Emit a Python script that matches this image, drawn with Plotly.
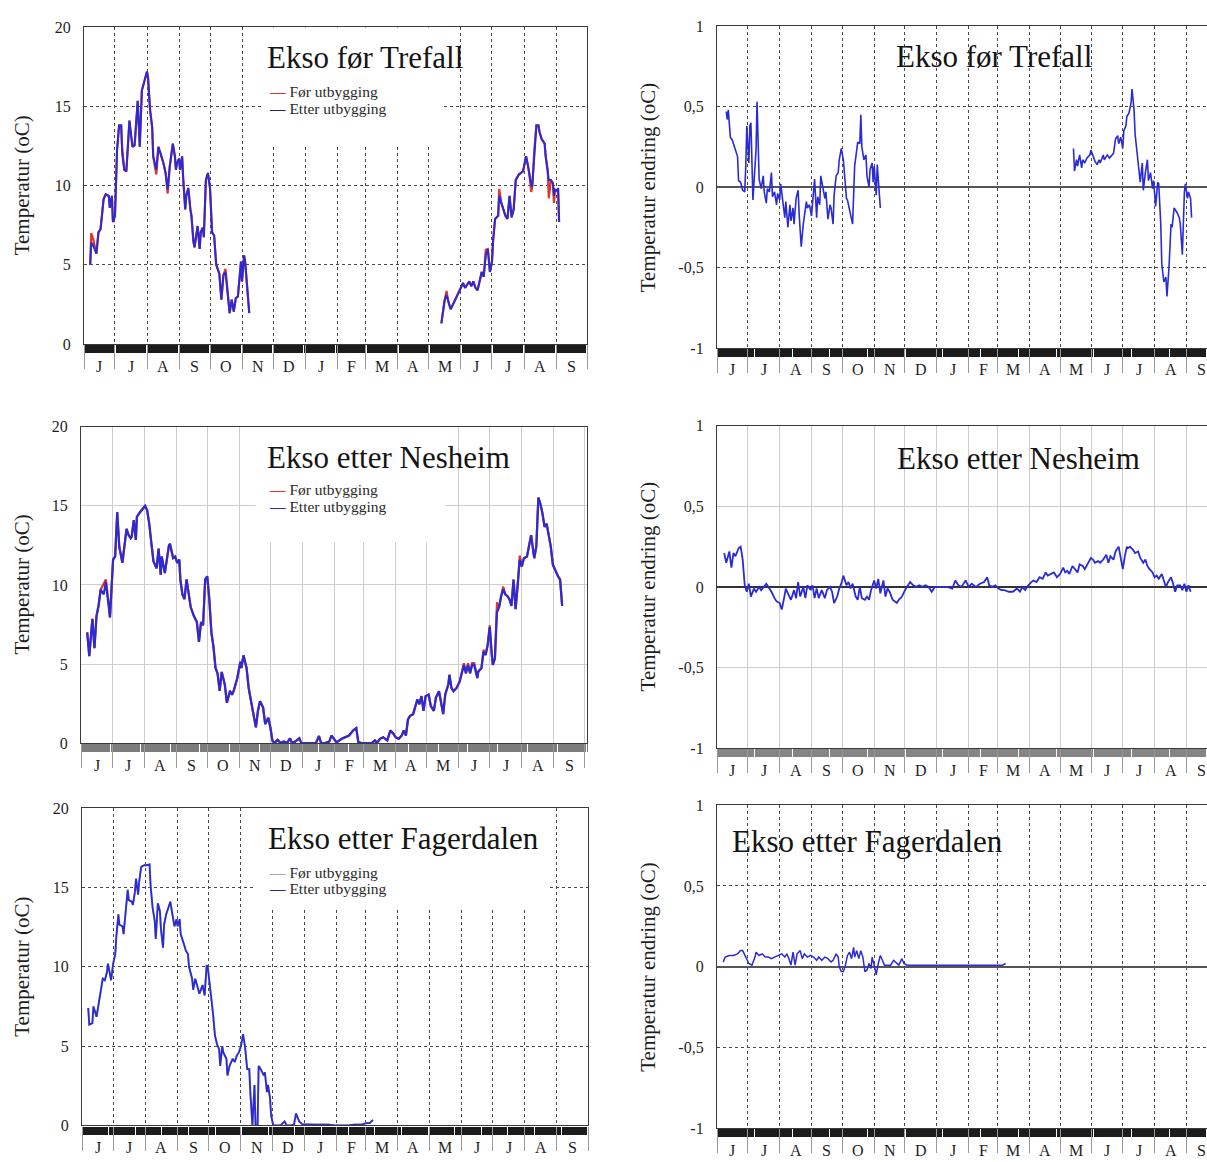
import plotly.graph_objects as go

W, H = 1207, 1162
SERIF = "Liberation Serif, Times New Roman, serif"

# ---------------- axis categories (days since 1 June, year 1) ----------------
month_starts = [0, 30, 61, 92, 122, 153, 183, 214, 245, 273, 304, 334, 365, 395, 426, 457, 487]
month_letters = ["J", "J", "A", "S", "O", "N", "D", "J", "F", "M", "A", "M", "J", "J", "A", "S"]
month_mids = [(month_starts[i] + month_starts[i + 1]) / 2 for i in range(len(month_letters))]

temp_ticks = [0, 5, 10, 15, 20]
diff_ticks = [-1, -0.5, 0, 0.5, 1]
diff_ticktext = ["-1", "-0,5", "0", "0,5", "1"]

# ---------------- Ekso før Trefall : temperature ----------------
tl_a_days = [6, 7, 9, 12, 14, 16, 19, 21, 24, 25, 27, 28, 30, 31, 32, 34, 36, 37, 39, 41,
             44, 45, 47, 49, 52, 53, 54, 56, 58, 61, 62, 64, 66, 67, 70, 72, 74, 77, 79, 81,
             83, 86, 88, 89, 90, 92, 93, 95, 96, 98, 99, 101, 103, 104, 106, 107, 110, 112, 113, 115,
             116, 118, 120, 122, 124, 126, 128, 131, 133, 135, 137, 139, 141, 143, 145, 147, 149, 150, 152, 153,
             155, 156, 158, 160]
tl_a_etter = [5.0, 6.4, 6.2, 5.7, 7.05, 7.25, 9.15, 9.45, 9.35, 8.6, 9.35, 7.7, 8.1, 10.6, 12.25, 13.8, 13.8, 12.0, 11.0, 10.9,
              14.1, 13.5, 12.45, 12.55, 15.35, 13.9, 12.45, 16.0, 16.5, 17.2, 16.8, 14.75, 13.7, 11.85, 11.0, 12.45, 12.05, 11.4, 10.8, 9.75,
              11.2, 12.65, 11.85, 11.0, 11.4, 11.7, 11.0, 11.85, 10.5, 8.5, 9.35, 9.85, 8.5, 8.1, 6.45, 6.1, 7.45, 6.0, 7.05, 7.35,
              6.75, 10.35, 10.8, 9.85, 7.05, 6.85, 5.0, 4.45, 2.8, 4.35, 4.55, 3.1, 1.95, 2.8, 2.05, 2.9, 3.0, 3.75, 5.2, 3.95,
              5.6, 5.2, 3.55, 1.95]
tl_a_foer_diff = {7: 7.0, 9: 6.6, 37: 12.4, 70: 10.7, 81: 9.5, 137: 4.75}

tl_b_days = [346, 348, 349, 351, 353, 355, 358, 360, 363, 365, 367, 369, 371, 373, 375, 377, 379, 381, 383, 385,
             387, 389, 391, 392, 393, 395, 396, 398, 401, 402, 404, 406, 408, 410, 411, 412, 414, 416, 418, 421,
             423, 425, 426, 428, 430, 431, 433, 434, 436, 438, 440, 441, 443, 446, 447, 449, 450, 452, 454, 455,
             456, 458, 459, 460]
tl_b_etter = [1.3, 2.4, 2.7, 3.1, 2.6, 2.2, 2.6, 2.9, 3.3, 3.55, 3.85, 3.55, 3.75, 3.95, 3.65, 3.95, 3.55, 3.4, 3.95, 4.55,
              4.25, 5.6, 6.0, 5.4, 4.55, 5.2, 6.45, 7.9, 8.1, 9.35, 8.9, 8.5, 8.1, 7.9, 8.7, 9.35, 8.0, 8.5, 10.35, 10.7,
              10.8, 10.9, 11.2, 11.85, 11.2, 10.8, 10.05, 9.95, 12.25, 13.8, 13.8, 13.4, 12.95, 12.65, 11.85, 11.0, 10.35, 10.35, 10.15, 9.35,
              9.75, 9.65, 9.85, 7.7]
tl_b_foer_diff = {351: 3.35, 389: 5.95, 402: 9.8, 433: 9.6, 450: 9.2, 455: 8.9}

# ---------------- Ekso etter Nesheim : temperature ----------------
ml_days = [6, 8, 11, 13, 15, 17, 19, 22, 24, 27, 28, 31, 33, 35, 37, 40, 42, 44, 46, 48,
           49, 51, 53, 54, 57, 59, 62, 64, 66, 68, 70, 73, 75, 77, 78, 81, 83, 85, 86, 89,
           91, 93, 95, 96, 98, 100, 102, 104, 106, 109, 112, 114, 116, 118, 120, 122, 124, 126, 128, 130,
           132, 134, 136, 139, 141, 144, 146, 148, 151, 154, 155, 157, 160, 162, 164, 166, 169, 171, 173, 176,
           178, 181, 183, 185, 187, 190, 193, 196, 199, 202, 204, 207, 211, 213, 216, 220, 224, 227, 230, 232,
           236, 240, 242, 247, 252, 259, 263, 266, 268, 271, 275, 278, 281, 284, 286, 289, 292, 296, 299, 302,
           304, 307, 310, 312, 314, 316, 318, 321, 325, 327, 329, 331, 333, 336, 338, 341, 343, 346, 348, 350,
           352, 355, 356, 358, 360, 363, 366, 368, 370, 372, 374, 376, 378, 380, 383, 384, 387, 389, 391, 393,
           395, 397, 398, 400, 402, 404, 406, 408, 410, 412, 414, 416, 418, 420, 422, 424, 426, 428, 431, 433,
           435, 438, 440, 442, 444, 446, 448, 450, 452, 454, 456, 458, 461, 463, 465]
ml_etter = [7.0, 5.5, 7.85, 6.0, 8.05, 8.7, 9.7, 9.4, 10.2, 8.7, 7.95, 11.6, 11.8, 14.6, 12.4, 11.4, 12.5, 13.55, 13.15, 12.95,
            13.05, 14.1, 12.85, 14.3, 14.6, 14.75, 15.0, 14.7, 13.85, 12.65, 11.5, 11.05, 12.3, 10.65, 11.8, 10.75, 11.7, 12.5, 12.6, 11.7,
            11.8, 11.4, 11.6, 10.35, 9.4, 9.1, 10.35, 9.4, 8.6, 8.05, 7.65, 6.4, 7.65, 7.45, 10.35, 10.55, 9.1, 7.0, 6.1, 4.75,
            4.4, 3.3, 4.5, 3.7, 2.55, 3.3, 3.05, 3.4, 4.1, 5.15, 4.75, 5.55, 4.75, 3.5, 2.65, 2.05, 1.0, 2.05, 2.65, 2.25,
            1.2, 1.6, 1.0, 0.15, 0.0, 0.2, 0.0, 0.1, 0.0, 0.3, 0.0, 0.1, 0.3, 0.0, 0.0, 0.0, 0.0, 0.0, 0.45, 0.0,
            0.0, 0.1, 0.48, 0.05, 0.27, 0.48, 0.8, 0.95, 0.06, 0.0, 0.0, 0.0, 0.0, 0.17, 0.02, 0.27, 0.37, 0.17, 0.8, 0.58,
            0.37, 0.27, 0.48, 0.8, 0.48, 1.5, 1.72, 1.83, 2.76, 2.45, 2.97, 2.04, 2.97, 3.07, 2.35, 2.04, 2.87, 3.28, 2.66, 1.83,
            3.07, 3.7, 4.32, 3.49, 3.28, 3.49, 3.9, 4.53, 4.94, 4.42, 4.94, 4.42, 4.94, 4.94, 4.11, 4.53, 4.74, 5.77, 5.57, 6.19,
            7.33, 5.57, 4.94, 5.36, 8.27, 8.58, 9.3, 9.72, 9.41, 9.3, 9.1, 8.68, 10.34, 8.47, 9.93, 11.59, 11.17, 11.69, 11.8, 12.42,
            13.15, 11.69, 12.42, 15.53, 15.12, 14.5, 13.67, 13.87, 13.25, 12.42, 11.28, 10.97, 10.55, 10.34, 8.68]
ml_foer_diff = {22: 10.1, 24: 10.35, 370: 5.05, 374: 5.05, 378: 5.05, 380: 5.05, 389: 5.9,
                395: 7.45, 402: 8.9, 408: 9.9, 424: 11.85}

# ---------------- Ekso etter Fagerdalen : temperature ----------------
bl_days = [6, 7, 10, 11, 14, 16, 18, 20, 22, 24, 25, 27, 28, 30, 32, 33, 35, 36, 39, 40,
           42, 44, 45, 48, 49, 51, 52, 54, 55, 57, 60, 62, 65, 66, 68, 70, 71, 73, 75, 76,
           78, 79, 81, 83, 85, 87, 89, 91, 92, 94, 95, 98, 100, 102, 103, 106, 107, 109, 111, 113,
           115, 116, 118, 120, 121, 123, 125, 126, 128, 130, 132, 133, 135, 136, 139, 140, 142, 145, 147, 149,
           151, 153, 155, 157, 159, 161, 162, 164, 166, 167, 169, 170, 172, 175, 176, 178, 179, 181, 182, 184,
           188, 191, 195, 197, 201, 204, 206, 207, 209, 212, 217, 224, 230, 237, 243, 249, 256, 262, 269, 274,
           277, 280]
bl_etter = [7.4, 6.35, 6.45, 7.5, 6.85, 7.7, 8.3, 9.25, 9.15, 9.65, 10.2, 9.55, 9.15, 10.2, 10.8, 11.85, 13.3, 12.65, 12.55, 12.05,
            13.3, 14.85, 14.2, 14.1, 13.9, 14.75, 15.55, 14.55, 15.35, 16.3, 16.4, 16.4, 16.45, 15.15, 13.7, 12.9, 11.75, 14.0, 13.5, 12.35,
            11.2, 12.65, 13.3, 13.7, 14.1, 13.3, 12.55, 13.0, 12.55, 13.0, 12.05, 11.45, 11.0, 10.8, 10.0, 9.25, 8.55, 9.25, 8.75, 8.3,
            8.65, 8.85, 8.2, 10.1, 10.0, 8.85, 7.9, 7.1, 5.65, 5.1, 4.8, 3.75, 5.0, 4.6, 4.2, 3.15, 3.75, 4.2, 4.0, 4.4,
            4.6, 5.0, 5.75, 4.9, 3.55, 3.55, 2.1, 0.0, 2.55, 0.0, 0.0, 3.75, 3.55, 3.15, 3.35, 2.1, 2.55, 1.7, 0.65, 0.0,
            0.0, 0.0, 0.25, 0.0, 0.0, 0.05, 0.75, 0.55, 0.25, 0.08, 0.05, 0.05, 0.05, 0.05, 0.0, 0.0, 0.0, 0.05, 0.05, 0.15,
            0.15, 0.35]

# ---------------- temperature change series ----------------
tr_a_days = [9, 10, 11, 13, 15, 18, 20, 21, 23, 25, 27, 28, 29, 31, 32, 33, 34, 35, 36, 38,
             39, 40, 41, 43, 45, 46, 48, 49, 51, 53, 54, 56, 58, 59, 61, 62, 64, 66, 67, 69,
             71, 72, 74, 75, 77, 79, 80, 82, 84, 85, 87, 88, 90, 92, 93, 95, 97, 98, 100, 101,
             103, 105, 106, 108, 110, 111, 113, 114, 116, 118, 119, 121, 123, 124, 126, 127, 129, 131, 132, 134,
             136, 137, 139, 140, 141, 143, 145, 146, 148, 149, 151, 152, 153, 155, 156, 157, 159]
tr_a_endring = [0.47, 0.42, 0.48, 0.31, 0.29, 0.23, 0.19, 0.04, 0.03, -0.02, -0.03, 0.13, 0.38, 0.15, 0.38, 0.4, 0.07, -0.08, 0.03, 0.23,
                0.53, 0.23, 0.05, -0.01, 0.07, -0.03, -0.1, -0.01, -0.03, 0.09, -0.06, -0.03, -0.11, -0.04, -0.08, 0.02, -0.07, -0.19, -0.09, -0.25,
                -0.11, -0.21, -0.13, -0.23, -0.07, -0.02, -0.17, -0.37, -0.23, -0.17, -0.09, -0.13, -0.11, -0.18, -0.11, 0.05, -0.19, -0.06, -0.11, 0.07,
                0.0, -0.07, -0.03, -0.2, -0.11, -0.13, -0.23, -0.05, 0.07, 0.09, 0.17, 0.24, 0.17, 0.07, -0.07, -0.08, -0.15, -0.21, -0.23, 0.13,
                0.25, 0.28, 0.27, 0.45, 0.25, 0.17, 0.2, 0.07, 0.0, 0.11, 0.15, 0.03, 0.13, -0.05, 0.14, 0.05, -0.13]
tr_b_days = [347, 348, 350, 351, 353, 355, 356, 358, 360, 363, 364, 366, 368, 370, 372, 373, 376, 377, 380, 382,
             385, 386, 388, 390, 391, 393, 395, 396, 398, 399, 401, 403, 404, 406, 407, 409, 411, 412, 414, 415,
             417, 419, 420, 422, 424, 425, 427, 429, 430, 432, 433, 435, 437, 438, 440, 442, 443, 445, 447, 448,
             450, 451, 453, 455, 456, 458, 459, 461, 462]
tr_b_endring = [0.24, 0.1, 0.17, 0.13, 0.2, 0.12, 0.17, 0.15, 0.18, 0.2, 0.23, 0.19, 0.16, 0.14, 0.17, 0.15, 0.2, 0.17, 0.2, 0.18,
                0.2, 0.21, 0.3, 0.32, 0.27, 0.31, 0.24, 0.35, 0.38, 0.44, 0.46, 0.52, 0.61, 0.48, 0.33, 0.19, 0.09, 0.03, 0.15, -0.02,
                0.09, 0.17, 0.04, 0.09, -0.01, 0.04, -0.12, 0.03, 0.02, -0.23, -0.48, -0.59, -0.56, -0.68, -0.5, -0.23, -0.25, -0.13, -0.15, -0.16,
                -0.19, -0.23, -0.42, -0.03, 0.02, -0.07, -0.03, -0.07, -0.19]

mr_days = [7, 9, 12, 14, 16, 18, 21, 23, 25, 27, 29, 31, 33, 36, 38, 41, 43, 46, 48, 51,
           53, 56, 58, 61, 63, 65, 67, 69, 72, 75, 77, 79, 81, 84, 86, 88, 91, 93, 95, 97,
           99, 102, 105, 107, 110, 112, 114, 117, 119, 121, 123, 126, 128, 130, 132, 135, 137, 139, 141, 144,
           146, 148, 150, 153, 155, 157, 159, 162, 164, 166, 168, 171, 173, 175, 177, 180, 183, 186, 188, 191,
           194, 197, 200, 203, 206, 209, 212, 216, 220, 224, 229, 232, 235, 238, 242, 245, 248, 252, 256, 260,
           263, 265, 268, 271, 274, 277, 280, 284, 288, 292, 295, 297, 300, 303, 306, 308, 311, 314, 317, 320,
           322, 325, 328, 331, 334, 337, 339, 341, 343, 346, 349, 351, 353, 356, 358, 361, 364, 366, 368, 371,
           373, 376, 379, 381, 383, 386, 388, 391, 393, 395, 397, 399, 400, 402, 405, 407, 410, 412, 415, 417,
           419, 421, 424, 426, 428, 430, 433, 435, 437, 439, 442, 444, 446, 448, 451, 453, 455, 457, 459, 461]
mr_endring = [0.21, 0.15, 0.22, 0.12, 0.21, 0.19, 0.24, 0.25, 0.17, 0.01, -0.03, 0.02, -0.06, -0.01, -0.03, 0.0, -0.02, 0.0, 0.02, -0.01,
              -0.03, -0.07, -0.09, -0.1, -0.14, -0.08, -0.01, -0.04, -0.08, -0.02, -0.07, 0.03, -0.06, 0.0, -0.07, 0.01, -0.02, 0.01, -0.07, -0.01,
              -0.07, -0.02, -0.07, -0.02, 0.0, -0.03, -0.1, -0.06, -0.01, 0.02, 0.07, 0.01, 0.03, -0.01, 0.02, -0.06, -0.08, 0.0, -0.07, -0.08,
              -0.06, -0.08, -0.02, 0.04, -0.01, 0.05, -0.04, 0.04, -0.06, -0.01, -0.03, -0.08, -0.09, -0.1, -0.08, -0.06, -0.02, 0.01, 0.03, 0.01,
              0.0, 0.01, 0.0, 0.01, 0.0, -0.03, 0.0, 0.0, 0.0, 0.0, -0.01, 0.04, 0.01, 0.0, 0.04, 0.0, 0.02, 0.0, 0.02, 0.03,
              0.06, 0.01, 0.0, 0.01, -0.01, -0.02, -0.02, -0.03, -0.03, -0.01, -0.03, 0.0, -0.02, 0.01, 0.03, 0.04, 0.03, 0.06, 0.05, 0.09,
              0.07, 0.08, 0.09, 0.06, 0.08, 0.12, 0.09, 0.1, 0.08, 0.13, 0.11, 0.09, 0.14, 0.13, 0.11, 0.15, 0.18, 0.17, 0.15, 0.16,
              0.15, 0.17, 0.2, 0.15, 0.19, 0.17, 0.22, 0.25, 0.18, 0.11, 0.19, 0.25, 0.24, 0.25, 0.23, 0.21, 0.22, 0.18, 0.15, 0.17,
              0.13, 0.11, 0.09, 0.06, 0.07, 0.05, 0.08, 0.04, 0.0, 0.03, 0.06, 0.02, -0.03, 0.01, 0.01, -0.02, 0.02, -0.03, 0.01, -0.03]

br_days = [6, 8, 12, 16, 20, 23, 25, 28, 31, 34, 37, 38, 41, 44, 47, 50, 53, 56, 60, 63,
           66, 68, 70, 72, 74, 76, 78, 81, 83, 85, 88, 91, 94, 97, 99, 102, 105, 108, 111, 113,
           116, 118, 119, 121, 123, 125, 127, 129, 131, 133, 134, 136, 138, 140, 142, 144, 146, 148, 150, 151,
           153, 155, 157, 159, 161, 163, 166, 169, 172, 175, 177, 180, 182, 185, 189, 193, 197, 200, 204, 208,
           212, 219, 227, 234, 242, 249, 257, 264, 272, 278, 281]
br_endring = [0.03, 0.06, 0.07, 0.07, 0.08, 0.1, 0.1, 0.06, 0.02, 0.01, 0.06, 0.09, 0.07, 0.08, 0.06, 0.06, 0.05, 0.06, 0.07, 0.08,
              0.06, 0.08, 0.05, 0.01, 0.09, 0.01, 0.08, 0.1, 0.05, 0.08, 0.06, 0.07, 0.06, 0.04, 0.06, 0.04, 0.06, 0.05, 0.03, 0.04,
              0.08, 0.06, 0.0, -0.03, -0.03, 0.01, 0.07, 0.09, 0.05, 0.12, 0.06, 0.1, 0.05, 0.1, 0.06, -0.03, -0.02, 0.02, -0.01, 0.06,
              0.01, -0.05, 0.02, 0.07, 0.04, 0.01, 0.01, 0.01, 0.04, 0.02, 0.01, 0.05, 0.02, 0.01, 0.01, 0.01, 0.01, 0.01, 0.01, 0.01,
              0.01, 0.01, 0.01, 0.01, 0.01, 0.01, 0.01, 0.01, 0.01, 0.01, 0.02]

# ---------------- text ----------------
panel_titles = ["Ekso før Trefall", "Ekso før Trefall", "Ekso etter Nesheim",
                "Ekso etter Nesheim", "Ekso etter Fagerdalen", "Ekso etter Fagerdalen"]
legend_names = ["Før utbygging", "Etter utbygging"]
ytitle_temp = "Temperatur (oC)"
ytitle_diff = "Temperatur endring (oC)"


# ---------------- helpers ----------------
def fx(px):
    return px / W


def fy(py):
    return 1 - py / H


def apply_diff(days, vals, diff):
    return [diff.get(d, v) for d, v in zip(days, vals)]


def joined(*segs):
    xs, ys = [], []
    for i, (d, v) in enumerate(segs):
        if i:
            xs.append(None)
            ys.append(None)
        xs += list(d)
        ys += list(v)
    return xs, ys


BLUE = "#2b2bd6"
RED = "#e0352a"
GRAYLINE = "#b5b5b5"

fig = go.Figure()

x1f, y1f = joined((tl_a_days, apply_diff(tl_a_days, tl_a_etter, tl_a_foer_diff)),
                  (tl_b_days, apply_diff(tl_b_days, tl_b_etter, tl_b_foer_diff)))
x1e, y1e = joined((tl_a_days, tl_a_etter), (tl_b_days, tl_b_etter))
fig.add_trace(go.Scatter(x=x1f, y=y1f, mode="lines", name=legend_names[0], line=dict(color=RED, width=2.2),
                         xaxis="x", yaxis="y", connectgaps=False))
fig.add_trace(go.Scatter(x=x1e, y=y1e, mode="lines", name=legend_names[1], line=dict(color=BLUE, width=2),
                         xaxis="x", yaxis="y", connectgaps=False))
x2, y2 = joined((tr_a_days, tr_a_endring), (tr_b_days, tr_b_endring))
fig.add_trace(go.Scatter(x=x2, y=y2, mode="lines", line=dict(color=BLUE, width=1.6),
                         xaxis="x2", yaxis="y2", connectgaps=False))
fig.add_trace(go.Scatter(x=ml_days, y=apply_diff(ml_days, ml_etter, ml_foer_diff), mode="lines",
                         name=legend_names[0], line=dict(color=RED, width=2.2), xaxis="x3", yaxis="y3"))
fig.add_trace(go.Scatter(x=ml_days, y=ml_etter, mode="lines", name=legend_names[1],
                         line=dict(color=BLUE, width=2.2), xaxis="x3", yaxis="y3"))
fig.add_trace(go.Scatter(x=mr_days, y=mr_endring, mode="lines", line=dict(color=BLUE, width=1.8),
                         xaxis="x4", yaxis="y4"))
fig.add_trace(go.Scatter(x=bl_days, y=bl_etter, mode="lines", name=legend_names[0],
                         line=dict(color=GRAYLINE, width=2), xaxis="x5", yaxis="y5"))
fig.add_trace(go.Scatter(x=bl_days, y=bl_etter, mode="lines", name=legend_names[1],
                         line=dict(color=BLUE, width=1.8), xaxis="x5", yaxis="y5"))
fig.add_trace(go.Scatter(x=br_days, y=br_endring, mode="lines", line=dict(color=BLUE, width=1.5),
                         xaxis="x6", yaxis="y6"))

DOT = dict(gc="#4a4a4a", gd="dot")
LIGHT = dict(gc="#cdcdcd", gd="solid")
panels = {
    1: dict(xd=(84, 587), yd=(19.5, 341), xr=487, kind="temp", st=DOT, band="#1c1c1c", zl="#444"),
    2: dict(xd=(717, 1207), yd=(18.5, 345), xr=477, kind="diff", st=DOT, band="#1c1c1c", zl="#555"),
    3: dict(xd=(81, 587), yd=(425, 746), xr=489, kind="temp", st=LIGHT, band="#7c7c7c", zl="#444"),
    4: dict(xd=(717, 1207), yd=(424, 751), xr=477, kind="diff", st=LIGHT, band="#858585", zl="#333"),
    5: dict(xd=(82, 588), yd=(812, 1134), xr=487, kind="temp", st=DOT, band="#1c1c1c", zl="#444"),
    6: dict(xd=(717, 1207), yd=(809, 1137), xr=477, kind="diff", st=DOT, band="#1c1c1c", zl="#555"),
}

tickfont = dict(family=SERIF, size=16, color="#1e1e1e")
layout = {}
annotations = []
for i, p in panels.items():
    xs = "" if i == 1 else str(i)
    left = p["kind"] == "temp"
    layout["xaxis" + xs] = dict(
        domain=[fx(p["xd"][0]), fx(p["xd"][1])], range=[0, p["xr"]], anchor="y" + xs,
        tickmode="array", tickvals=month_starts, showticklabels=False,
        ticks="outside", ticklen=24, tickcolor="#9a9a9a", tickwidth=1,
        showgrid=True, gridcolor=p["st"]["gc"], griddash=p["st"]["gd"], gridwidth=1,
        showline=True, linecolor="#3a3a3a", linewidth=1.2, mirror=True, zeroline=False,
        minor=dict(dtick=1, tick0=0, ticks="outside", ticklen=8, tickcolor=p["band"], tickwidth=1, showgrid=False),
        fixedrange=True,
    )
    ydict = dict(
        domain=[fy(p["yd"][1]), fy(p["yd"][0])], anchor="x" + xs,
        ticks="outside", ticklen=9, tickcolor="rgba(0,0,0,0)", tickfont=tickfont,
        showgrid=True, gridcolor=p["st"]["gc"], griddash=p["st"]["gd"], gridwidth=1,
        showline=True, linecolor="#3a3a3a", linewidth=1.2, mirror=left, fixedrange=True,
    )
    if left:
        ydict.update(range=[0, 20], tickmode="array", tickvals=temp_ticks, zeroline=False)
    else:
        ydict.update(range=[-1, 1], tickmode="array", tickvals=diff_ticks, ticktext=diff_ticktext,
                     zeroline=True, zerolinecolor=p["zl"], zerolinewidth=1.5)
    layout["yaxis" + xs] = ydict
    # month letters, positioned through each panel's own x scale
    for mid, letter in zip(month_mids, month_letters):
        if mid <= p["xr"]:
            annotations.append(dict(x=mid, y=0, xref="x" + xs, yref="y" + xs + " domain", text=letter,
                                    showarrow=False, xanchor="center", yanchor="middle", yshift=-22,
                                    font=tickfont))

# white boxes behind the title/legend areas (they hide the gridlines in the original)
shapes = [
    dict(type="rect", xref="x", yref="y", x0=172, x1=347, y0=12.5, y1=20,
         fillcolor="white", line=dict(width=0), layer="between"),
    dict(type="rect", xref="x3", yref="y3", x0=169, x1=352, y0=12.7, y1=20,
         fillcolor="white", line=dict(width=0), layer="between"),
    dict(type="rect", xref="x5", yref="y5", x0=167, x1=450, y0=13.7, y1=20,
         fillcolor="white", line=dict(width=0), layer="between"),
]

title_pos = [(265, 50), (894, 49), (265, 456), (895, 457), (266, 843), (730, 846)]
for (px, py), t in zip(title_pos, panel_titles):
    annotations.append(dict(x=fx(px), y=fy(py), xref="paper", yref="paper", text=t, showarrow=False,
                            xanchor="left", yanchor="middle",
                            font=dict(family=SERIF, size=31, color="#141414")))

legend_spec = [(85, 102, RED, "#25256e"), (489, 506, RED, BLUE), (877, 894, "#aaaaaa", "#2a2a90")]
for y1, y2, c1, c2 in legend_spec:
    for yy, col, name in ((y1, c1, legend_names[0]), (y2, c2, legend_names[1])):
        annotations.append(dict(x=fx(267), y=fy(yy), xref="paper", yref="paper", showarrow=False,
                                xanchor="left", yanchor="middle",
                                text=f'<span style="color:{col}"><b>—</b></span> {name}',
                                font=dict(family=SERIF, size=15.5, color="#2a2a2a")))

for xx, yy, t in [(22, 180, ytitle_temp), (22, 585, ytitle_temp), (22, 973, ytitle_temp),
                  (648, 182, ytitle_diff), (648, 587, ytitle_diff), (648, 973, ytitle_diff)]:
    annotations.append(dict(x=fx(xx), y=fy(yy), xref="paper", yref="paper", text=t, showarrow=False,
                            textangle=-90, xanchor="center", yanchor="middle",
                            font=dict(family=SERIF, size=21, color="#1e1e1e")))

fig.update_layout(
    width=W, height=H, margin=dict(l=0, r=0, t=0, b=0, pad=0),
    paper_bgcolor="white", plot_bgcolor="white", showlegend=False,
    shapes=shapes, annotations=annotations, **layout,
)

fig.write_html(
    "out.html",
    config={"displayModeBar": False},
    post_script=("document.body.style.margin='0';document.documentElement.style.overflow='hidden';"
                 "document.body.style.overflow='hidden';"),
)
